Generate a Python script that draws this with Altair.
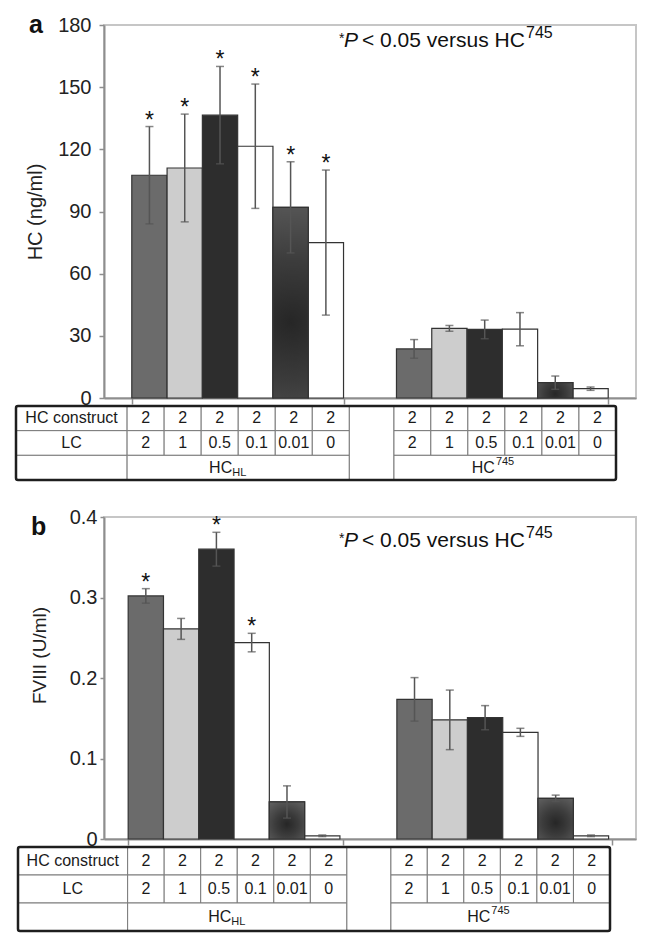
import altair as alt
import pandas as pd

FONT = "Liberation Sans"

# ---------------- data ----------------
lc_labels = ["2", "1", "0.5", "0.1", "0.01", "0"]
hc_construct = ["2", "2", "2", "2", "2", "2"]
group_ids = ["HC_HL", "HC745"]
row_labels = ["HC construct", "LC", ""]
group_main = ["HC", "HC"]
group_script = ["HL", "745"]
panel_letters = ["a", "b"]
note_parts = ["*", "P", "< 0.05 versus HC", "745"]

# panel a : HC (ng/ml)
a_hl_mean = [107.5, 111.0, 136.5, 121.5, 92.0, 75.0]
a_hl_err = [23.5, 26.0, 23.5, 30.0, 22.0, 35.0]
a_hl_sig = [True, True, True, True, True, True]
a_745_mean = [23.7, 33.6, 33.1, 33.2, 7.4, 4.5]
a_745_err = [4.5, 1.4, 4.5, 8.0, 3.2, 0.8]
a_745_sig = [False, False, False, False, False, False]

# panel b : FVIII (U/ml)
b_hl_mean = [0.302, 0.261, 0.360, 0.244, 0.046, 0.004]
b_hl_err = [0.009, 0.013, 0.021, 0.0115, 0.020, 0.001]
b_hl_sig = [True, False, True, True, False, False]
b_745_mean = [0.1735, 0.148, 0.1507, 0.1325, 0.0505, 0.004]
b_745_err = [0.027, 0.037, 0.015, 0.005, 0.004, 0.001]
b_745_sig = [False, False, False, False, False, False]

a_title = "HC (ng/ml)"
b_title = "FVIII (U/ml)"
a_ticks = [0, 30, 60, 90, 120, 150, 180]
b_ticks = [0, 0.1, 0.2, 0.3, 0.4]

# ---------------- styles ----------------
a_colors = ["#6b6b6b", "#cdcdcd", "#2d2d2d", "#ffffff", "#505050", "#ffffff"]
b_colors = ["#717171", "#bdbdbd", "#404040", "#ececec", "#505050", "#ffffff"]
AXIS_GRAY = "#8e8e8e"
ERR_COLOR = "#555555"
TEXT_COLOR = "#1a1a1a"
PLOT_W = 532


def panel_frame(hl_mean, hl_err, hl_sig, s_mean, s_err, s_sig):
    rows = []
    for g, ms, es, ss in ((group_ids[0], hl_mean, hl_err, hl_sig),
                          (group_ids[1], s_mean, s_err, s_sig)):
        for lc, m, e, s in zip(lc_labels, ms, es, ss):
            rows.append({"group": g, "lc": lc, "mean": m, "lo": max(m - e, 0),
                         "hi": m + e, "star": "*" if s else ""})
    return pd.DataFrame(rows)


# table layout (in cell units)
N = len(lc_labels)
LABEL_W = 3.0
GAP_W = 1.2
G1 = LABEL_W
GAP0 = G1 + N
G2 = GAP0 + GAP_W
T_END = G2 + N


def table_frames():
    cells, texts = [], []
    for r in range(2):
        cells.append(dict(x0=0, x1=LABEL_W, y0=r, y1=r + 1))
        texts.append(dict(xc=LABEL_W / 2, yc=r + 0.5, t=row_labels[r]))
        vals = hc_construct if r == 0 else lc_labels
        for start in (G1, G2):
            for i, v in enumerate(vals):
                cells.append(dict(x0=start + i, x1=start + i + 1, y0=r, y1=r + 1))
                texts.append(dict(xc=start + i + 0.5, yc=r + 0.5, t=v))
    cells.append(dict(x0=0, x1=LABEL_W, y0=2, y1=3))
    cells.append(dict(x0=G1, x1=G1 + N, y0=2, y1=3))
    cells.append(dict(x0=G2, x1=G2 + N, y0=2, y1=3))
    cells.append(dict(x0=GAP0, x1=G2, y0=0, y1=3))
    border = [dict(x0=0, x1=T_END, y0=0, y1=3)]
    grp = [dict(xc=G1 + N / 2, yc=2.5, main=group_main[0], script=group_script[0]),
           dict(xc=G2 + N / 2, yc=2.5, main=group_main[1], script=group_script[1])]
    return pd.DataFrame(cells), pd.DataFrame(texts), pd.DataFrame(border), pd.DataFrame(grp)


def table_layer(xr, yr):
    cells, texts, border, grp = table_frames()
    xs = alt.Scale(domain=[0, T_END], range=xr, nice=False, zero=False)
    ys = alt.Scale(domain=[0, 3], range=yr, nice=False, zero=False)
    rect_enc = dict(x=alt.X("x0:Q", scale=xs, axis=None), x2="x1:Q",
                    y=alt.Y("y0:Q", scale=ys, axis=None), y2="y1:Q")
    txt_enc = dict(x=alt.X("xc:Q", scale=xs, axis=None),
                   y=alt.Y("yc:Q", scale=ys, axis=None))
    c = alt.Chart(cells).mark_rect(fill="white", stroke="#7a7a7a", strokeWidth=1).encode(**rect_enc)
    b = alt.Chart(border).mark_rect(fill=None, stroke="#1e1e1e", strokeWidth=2.5,
                                    cornerRadius=2).encode(**rect_enc)
    t = alt.Chart(texts).mark_text(font=FONT, fontSize=16, color=TEXT_COLOR,
                                   baseline="middle").encode(text="t:N", **txt_enc)
    g1 = grp.iloc[[0]]
    g2 = grp.iloc[[1]]
    m1 = alt.Chart(g1).mark_text(font=FONT, fontSize=16, color=TEXT_COLOR, align="right",
                                 baseline="middle", dx=-6).encode(text="main:N", **txt_enc)
    s1 = alt.Chart(g1).mark_text(font=FONT, fontSize=11, color=TEXT_COLOR, align="left",
                                 baseline="middle", dx=-6, dy=5).encode(text="script:N", **txt_enc)
    m2 = alt.Chart(g2).mark_text(font=FONT, fontSize=16, color=TEXT_COLOR, align="right",
                                 baseline="middle", dx=-10).encode(text="main:N", **txt_enc)
    s2 = alt.Chart(g2).mark_text(font=FONT, fontSize=11, color=TEXT_COLOR, align="left",
                                 baseline="middle", dx=-9, dy=-6).encode(text="script:N", **txt_enc)
    return alt.layer(c, b, t, m1, s1, m2, s2)


def notes_layer(letter, lx, ly, nx, ny):
    one = lambda s: pd.DataFrame({"t": [s]})
    let = alt.Chart(one(letter)).mark_text(font=FONT, fontSize=25, fontWeight="bold", color="#111",
                                           align="left", baseline="top").encode(
        x=alt.value(lx), y=alt.value(ly), text="t:N")
    star = alt.Chart(one(note_parts[0])).mark_text(font=FONT, fontSize=14, color="#111",
                                                   align="left", baseline="alphabetic").encode(
        x=alt.value(nx), y=alt.value(ny - 4), text="t:N")
    p = alt.Chart(one(note_parts[1])).mark_text(font=FONT, fontSize=21, fontStyle="italic", color="#111",
                                                align="left", baseline="alphabetic").encode(
        x=alt.value(nx + 5), y=alt.value(ny), text="t:N")
    main = alt.Chart(one(note_parts[2])).mark_text(font=FONT, fontSize=21, color="#111",
                                                   align="left", baseline="alphabetic").encode(
        x=alt.value(nx + 23), y=alt.value(ny), text="t:N")
    sup = alt.Chart(one(note_parts[3])).mark_text(font=FONT, fontSize=16, color="#111",
                                                  align="left", baseline="alphabetic").encode(
        x=alt.value(nx + 187), y=alt.value(ny - 9), text="t:N")
    return alt.layer(let, star, p, main, sup)


def bars_layer(df, colors, ymax, ticks, fmt, ytitle, title_size, title_pad, tick_size,
               label_pad, pad_in, pad_out, title_y=None):
    x = alt.X("group:N", sort=group_ids,
              scale=alt.Scale(domain=group_ids, paddingInner=pad_in, paddingOuter=pad_out),
              axis=alt.Axis(labels=False, title=None, tickBand="extent", domainColor=AXIS_GRAY,
                            domainWidth=2, tickColor=AXIS_GRAY, tickSize=6, tickWidth=1.5))
    xo = alt.XOffset("lc:N", sort=lc_labels,
                     scale=alt.Scale(domain=lc_labels, paddingInner=0, paddingOuter=0))
    axis_kw = dict(values=ticks, format=fmt, title=ytitle, grid=False,
                   labelFont=FONT, labelFontSize=20, labelColor="#222",
                   titleFont=FONT, titleFontSize=title_size, titleFontWeight="normal",
                   titleColor="#222", titlePadding=title_pad,
                   domainColor=AXIS_GRAY, domainWidth=2, tickColor=AXIS_GRAY,
                   tickSize=tick_size, tickWidth=1.5, labelPadding=label_pad)
    if title_y is not None:
        axis_kw["titleY"] = title_y
    yaxis = alt.Axis(**axis_kw)
    ys = alt.Scale(domain=[0, ymax], nice=False, zero=True)
    base = alt.Chart(df)
    bars = base.mark_bar(stroke="#333", strokeWidth=1.2).encode(
        x=x, xOffset=xo, y=alt.Y("mean:Q", scale=ys, axis=yaxis),
        fill=alt.Fill("lc:N", sort=lc_labels, scale=alt.Scale(domain=lc_labels, range=colors),
                      legend=None))
    grad = alt.Gradient(gradient="radial",
                        stops=[alt.GradientStop(color="#262626", offset=0),
                               alt.GradientStop(color="#3c3c3c", offset=0.4),
                               alt.GradientStop(color="#666666", offset=1)],
                        x1=0.5, y1=0.6, x2=0.5, y2=0.6, r1=0, r2=0.8)
    gbar = base.transform_filter(alt.datum.lc == lc_labels[4]).mark_bar(
        fill=grad, stroke="#333", strokeWidth=1.2).encode(
        x=x, xOffset=xo, y=alt.Y("mean:Q", scale=ys, axis=yaxis))
    err = base.mark_rule(color=ERR_COLOR, strokeWidth=1.5).encode(
        x=x, xOffset=xo, y=alt.Y("lo:Q", scale=ys, axis=yaxis), y2="hi:Q")
    cap_hi = base.mark_tick(orient="horizontal", size=8, thickness=1.5, color=ERR_COLOR).encode(
        x=x, xOffset=xo, y=alt.Y("hi:Q", scale=ys, axis=yaxis))
    cap_lo = base.mark_tick(orient="horizontal", size=8, thickness=1.5, color=ERR_COLOR).encode(
        x=x, xOffset=xo, y=alt.Y("lo:Q", scale=ys, axis=yaxis))
    stars = base.mark_text(font=FONT, fontSize=23, color="#111", baseline="alphabetic", dy=1).encode(
        x=x, xOffset=xo, y=alt.Y("hi:Q", scale=ys, axis=yaxis), text="star:N")
    return alt.layer(bars, gbar, err, cap_hi, cap_lo, stars)


df_a = panel_frame(a_hl_mean, a_hl_err, a_hl_sig, a_745_mean, a_745_err, a_745_sig)
df_b = panel_frame(b_hl_mean, b_hl_err, b_hl_sig, b_745_mean, b_745_err, b_745_sig)

panel_a = alt.layer(
    bars_layer(df_a, a_colors, 180, a_ticks, "d", a_title, 20, 12, 5, 8, 0.2, 0.105),
    table_layer([-88, 512], [381, 455]),
    notes_layer(panel_letters[0], -75, -12, 235, 22),
).resolve_scale(x="independent", y="independent").properties(width=PLOT_W, height=373)

panel_b = alt.layer(
    bars_layer(df_b, b_colors, 0.4, b_ticks, ".1~f", b_title, 19, 20, 4, 3, 0.2, 0.09,
               title_y=138),
    table_layer([-86, 506], [330, 414]),
    notes_layer(panel_letters[1], -73, -2, 235, 30),
).resolve_scale(x="independent", y="independent").properties(width=PLOT_W, height=322)

chart = alt.vconcat(panel_a, panel_b, spacing=23).properties(
    padding={"left": 5, "top": 4, "right": 5, "bottom": 3}
).configure_view(stroke="#c6c6c6", strokeWidth=2)

chart.save("out.html", embed_options={"renderer": "svg", "actions": False})
